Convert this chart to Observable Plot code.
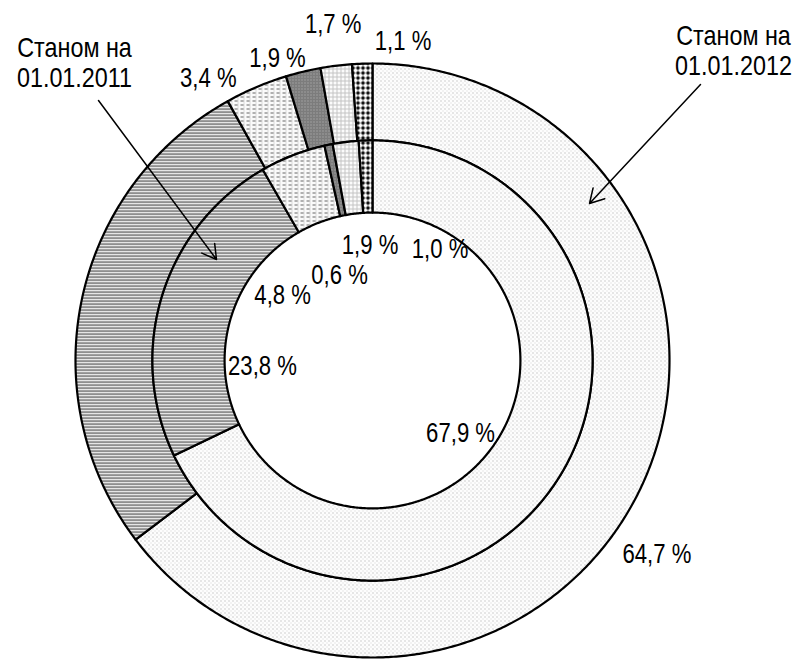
<!DOCTYPE html>
<html>
<head>
<meta charset="utf-8">
<script src="https://cdn.jsdelivr.net/npm/d3@7"></script>
<script src="https://cdn.jsdelivr.net/npm/@observablehq/plot@0.6"></script>
<style>
  body { margin: 0; background: #fff; }
  #chart svg { display: block; }
</style>
</head>
<body>
<svg width="0" height="0" style="position:absolute">
  <defs>
    <pattern id="pDots" width="4" height="4" patternUnits="userSpaceOnUse">
      <rect width="4" height="4" fill="#fdfdfd"/>
      <rect x="0" y="0" width="1" height="1" fill="#a0a0a0"/>
      <rect x="2" y="2" width="1" height="1" fill="#d0d0d0"/>
    </pattern>
    <pattern id="pHLines" width="4" height="3" patternUnits="userSpaceOnUse">
      <rect width="4" height="3" fill="#f6f6f6"/>
      <rect x="0" y="0" width="4" height="1.2" fill="#4a4a4a"/>
    </pattern>
    <pattern id="pDash" width="6" height="4" patternUnits="userSpaceOnUse">
      <rect width="6" height="4" fill="#fafafa"/>
      <rect x="0" y="0" width="3.5" height="1" fill="#666"/>
      <rect x="3" y="2" width="1" height="1" fill="#bbbbbb"/>
    </pattern>
    <pattern id="pDark" width="3" height="3" patternUnits="userSpaceOnUse">
      <rect width="3" height="3" fill="#7c7c7c"/>
      <rect x="1" y="1" width="1" height="1" fill="#bdbdbd"/>
    </pattern>
    <pattern id="pGrid" width="4" height="4" patternUnits="userSpaceOnUse">
      <rect width="4" height="4" fill="#fbfbfb"/>
      <rect x="0" y="0" width="4" height="1" fill="#c4c4c4"/>
      <rect x="0" y="0" width="1" height="4" fill="#c4c4c4"/>
    </pattern>
    <pattern id="pDiamond" width="5" height="5" patternUnits="userSpaceOnUse">
      <rect width="5" height="5" fill="#ffffff"/>
      <polygon points="2.5,0.3 4.7,2.5 2.5,4.7 0.3,2.5" fill="#000"/>
    </pattern>
  </defs>
</svg>
<div id="chart"></div>
<script>
// ---- data ----
const seriesNames = ["Станом на\n01.01.2011", "Станом на\n01.01.2012"];
const values2011 = [67.9, 23.8, 4.8, 0.6, 1.9, 1.0];
const labels2011 = ["67,9 %", "23,8 %", "4,8 %", "0,6 %", "1,9 %", "1,0 %"];
const values2012 = [64.7, 27.2, 3.4, 1.9, 1.7, 1.1];
const labels2012 = ["64,7 %", "", "3,4 %", "1,9 %", "1,7 %", "1,1 %"];

// ---- styling / layout (not data) ----
const patterns = ["url(#pDots)", "url(#pHLines)", "url(#pDash)", "url(#pDark)", "url(#pGrid)", "url(#pDiamond)"];
const R = 297;                 // pixels per data unit (outer radius)
const rings = {inner: [0.498, 0.741], outer: [0.741, 1]};
const nudge2011 = [[-5, 14], [-5, 39], [-50, 37], [-11, 23], [11, -6], [71, -1]];
const nudge2012 = [[-11, 47], [0, 0], [-35, 22], [-18, 19], [1, -9], [42, 11]];
const FONT = "'Liberation Sans', Arial, sans-serif";

function slices(values, [r0, r1], ring) {
  const arcs = d3.pie().sort(null).value(d => d)(values);
  const pts = [];
  arcs.forEach((a, i) => {
    const n = Math.max(2, Math.ceil((a.endAngle - a.startAngle) / (Math.PI / 360)));
    const key = ring + i;
    for (let k = 0; k <= n; k++) {
      const t = a.startAngle + (a.endAngle - a.startAngle) * k / n;
      pts.push({key, fill: patterns[i], x: r1 * Math.sin(t), y: r1 * Math.cos(t)});
    }
    for (let k = n; k >= 0; k--) {
      const t = a.startAngle + (a.endAngle - a.startAngle) * k / n;
      pts.push({key, fill: patterns[i], x: r0 * Math.sin(t), y: r0 * Math.cos(t)});
    }
  });
  return {pts, arcs};
}

function labelsFor(arcs, labels, radiusPx, nudges) {
  return arcs.map((a, i) => {
    const m = (a.startAngle + a.endAngle) / 2;
    return {
      text: labels[i],
      x: (radiusPx * Math.sin(m) + nudges[i][0]) / R,
      y: (radiusPx * Math.cos(m) - nudges[i][1]) / R
    };
  }).filter(d => d.text);
}

const inner = slices(values2011, rings.inner, "a");
const outer = slices(values2012, rings.outer, "b");
const lbl = [
  ...labelsFor(inner.arcs, labels2011, 110, nudge2011),
  ...labelsFor(outer.arcs, labels2012, 330, nudge2012)
];

// annotation callouts (pixel offsets from the center, converted to data units)
const px = (dx, dy) => [dx / R, -dy / R];
const notes = [
  {text: seriesNames[0], p: px(-298, -298)},
  {text: seriesNames[1], p: px(361, -310)}
];
const arrows = [
  {a: px(-274, -260), b: px(-156, -101)},
  {a: px(328, -276), b: px(217, -157)}
];

const chart = Plot.plot({
  width: 799,
  height: 660,
  marginLeft: 75,
  marginRight: 130,
  marginTop: 63,
  marginBottom: 3,
  x: {domain: [-1, 1], axis: null},
  y: {domain: [-1, 1], axis: null},
  color: {type: "identity"},
  style: {fontFamily: FONT, background: "white"},
  marks: [
    Plot.line([...outer.pts, ...inner.pts], {
      x: "x", y: "y", z: "key", fill: "fill",
      stroke: "black", strokeWidth: 2.2, curve: "linear-closed", strokeLinejoin: "round"
    }),
    Plot.text(lbl, {x: "x", y: "y", text: "text", fontSize: 27, fill: "black"}),
    Plot.text(notes, {x: d => d.p[0], y: d => d.p[1], text: "text", fontSize: 28.5, lineHeight: 1.05, fill: "black"}),
    Plot.arrow(arrows, {
      x1: d => d.a[0], y1: d => d.a[1], x2: d => d.b[0], y2: d => d.b[1],
      stroke: "black", strokeWidth: 1.5, headLength: 16, headAngle: 60
    })
  ]
});
// narrow the glyphs horizontally to mimic a condensed typeface
chart.querySelectorAll("text").forEach(t => {
  const tr = t.getAttribute("transform") || "";
  t.setAttribute("transform", tr + " scale(0.82,1)");
});
document.getElementById("chart").appendChild(chart);
</script>
</body>
</html>
